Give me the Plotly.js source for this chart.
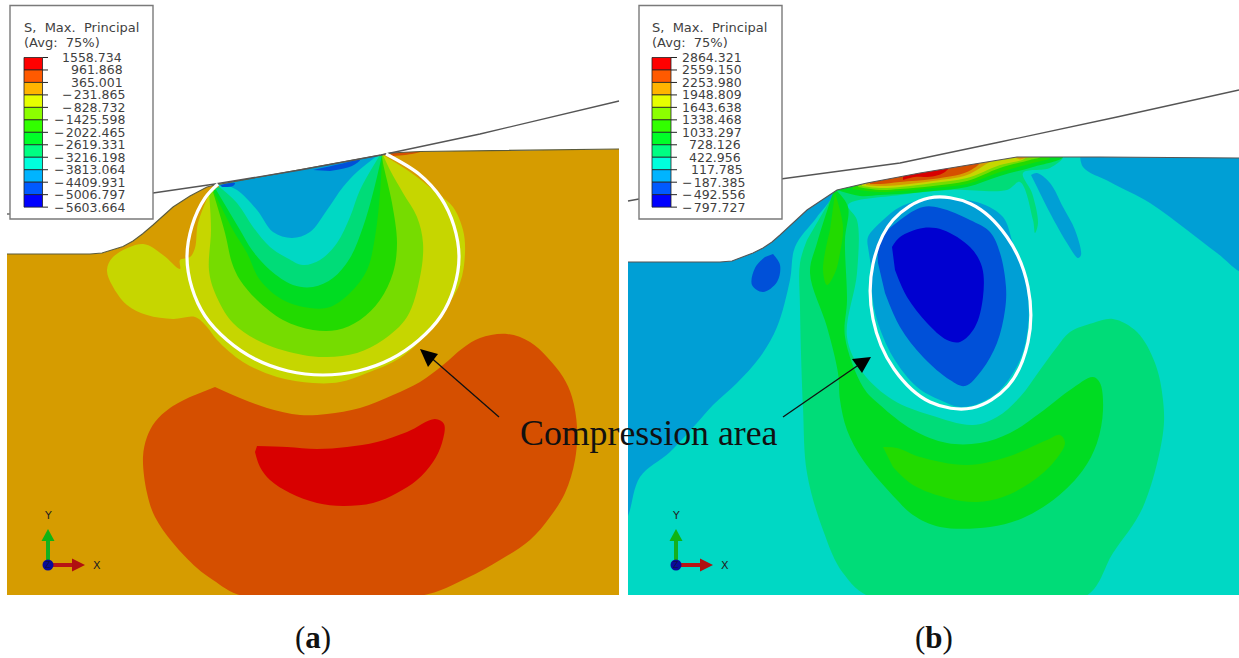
<!DOCTYPE html>
<html><head><meta charset="utf-8">
<script src="https://cdn.plot.ly/plotly-3.0.1.min.js"></script>
<style>html,body{margin:0;padding:0;background:#fff}#c{width:1239px;height:658px}</style>
</head><body><div id="c"></div>
<script>
// stress band colours of the contour plot, from high to low
const legendColors = ['#ff0000','#ff5a00','#ffb400','#e6ff00','#8cff00','#32ff00','#00ff28','#00ff82','#00ffdc','#00b4ff','#005aff','#0000ff'];
const cRed='#d80000', cOrange='#d54f00', cTan='#d69c00', cYellow='#c6d600', cLime='#76dc00', cGreen2='#22da00', cGreen='#00dc22', cMint='#00dc78', cCyan='#00d8c4', cBlue='#009fd5', cBlue2='#0050d8', cBlue3='#0000d0';

const legendTitle = 'S,\u00a0\u00a0Max.\u00a0\u00a0Principal';
const legendSub = '(Avg:\u00a0\u00a075%)';
const labelsA = ['1558.734','961.868','365.001','\u2212\u200a231.865','\u2212\u200a828.732','\u2212\u200a1425.598','\u2212\u200a2022.465','\u2212\u200a2619.331','\u2212\u200a3216.198','\u2212\u200a3813.064','\u2212\u200a4409.931','\u2212\u200a5006.797','\u2212\u200a5603.664'];
const labelsB = ['2864.321','2559.150','2253.980','1948.809','1643.638','1338.468','1033.297','728.126','422.956','117.785','\u2212\u200a187.385','\u2212\u200a492.556','\u2212\u200a797.727'];
const labelsAX = [62,71,71,62,62,54,54,54,54,54,54,54,54];
const labelsBX = [682,682,682,682,682,682,682,689,689,691,682,682,682];

// panel (a): surface outline and contour regions
const surfaceA = [[7,254],[75,254],[90,254],[102,253],[113,250],[123,246.5],[133,241],[143,233.5],[153,225],[173,207],[190,196],[207,187],[215,185],[300,170],[381,155],[390,153],[420,151.5],[619,149]];
const dieA = [[153,193],[215,184],[300,170],[381,155],[480,134],[550,117],[619,101]];
const dieStubA = [[7,214],[11,214]];
const aOrange = [[215,387],[240,398],[267,408],[300,415],[327,414],[360,408],[393,395],[420,382],[443,365],[463,348],[480,338],[507,334],[530,342],[547,357],[563,377],[572,397],[577,427],[575,460],[565,493],[550,517],[530,540],[500,560],[467,578],[420,596],[243,596],[213,580],[197,568],[173,543],[155,517],[147,493],[143,457],[147,437],[155,422],[170,408],[190,397]];
const aRed = [[257,446],[287,447],[317,449],[347,447],[377,442],[407,432],[435,419],[444,424],[442,443],[433,462],[417,480],[397,493],[373,503],[343,506],[317,503],[290,493],[270,480],[260,467],[255,452]];
const aYellow = [[210,192],[198,223],[195,248],[190,257],[180,260],[180,269],[163,255],[143,244],[113,257],[107,270],[112,285],[127,305],[147,315],[173,319],[195,317],[207,327],[217,340],[243,362],[277,377],[313,383],[340,382],[367,373],[400,358],[428,333],[440,317],[460,283],[465,253],[463,230],[453,207],[437,193],[410,172],[383,155]];
const aLime = [[209,192],[211,230],[209,270],[215,293],[233,323],[263,343],[303,355],[327,357],[357,353],[383,340],[407,317],[420,277],[423,243],[417,217],[403,193],[390,170],[383,155]];
const aGreen2 = [[213,192],[225,233],[232,263],[240,280],[257,300],[283,320],[313,330],[337,330],[360,320],[380,300],[393,273],[397,243],[392,203],[383,163],[382,155]];
const aGreen = [[213,190],[233,230],[247,253],[260,280],[283,300],[310,308],[330,307],[350,293],[367,270],[375,237],[380,193],[382,155]];
const aMint = [[215,188],[240,230],[252,250],[270,270],[293,285],[313,287],[333,278],[350,258],[363,227],[373,193],[382,155]];
const aCyan = [[217,185],[237,203],[253,227],[270,247],[287,258],[303,265],[320,260],[337,243],[350,217],[360,190],[380,155]];
const aBlue = [[222,184],[237,190],[257,210],[273,232],[292,238],[310,232],[327,210],[343,187],[357,172],[377,156]];
const aBlue2 = [[313,170],[340,164],[360,160],[352,166],[330,171]];
const aBlue3 = [[220,185],[235,183],[233,186],[222,187]];
const aHot = [[390,153],[405,152],[420,152],[405,155],[392,156]];
const circleA = [[386,154],[419,174],[441,198],[454,226],[459,257],[454,288],[441,316],[419,340],[391,359],[358,371],[323,375],[288,371],[255,359],[227,340],[205,316],[192,288],[187,257],[192,226],[205,198],[218,184]];

// panel (b): surface outline and contour regions
const surfaceB = [[628,262],[720,262],[732,261],[743,257],[753,253],[763,248],[772,242],[780,235],[807,210],[837,190],[867,183],[920,173],[987,162],[1017,157],[1100,157],[1239,158]];
const dieB = [[639,198],[782,179],[830,172],[900,163],[1000,142],[1117,117],[1239,90]];
const dieStubB = [[628,201],[639,199]];
const bBlueLeft = [[628,258],[720,258],[760,244],[800,210],[837,190],[817,217],[795,247],[790,280],[777,327],[760,357],[737,383],[713,405],[697,423],[670,452],[640,477],[630,510],[628,516]];
const bBlueSpot = [[773,254],[780,265],[777,282],[763,292],[752,285],[755,268],[765,257]];
const bBlueRight = [[1080,150],[1083,167],[1110,182],[1150,203],[1187,230],[1217,253],[1245,272],[1245,150]];
const bBlueSliver = [[1031,175],[1037,173],[1050,183],[1063,207],[1075,230],[1081,255],[1078,258],[1067,243],[1050,213],[1037,187]];
const bMint = [[836,190],[867,183],[920,173],[987,162],[1017,157],[1063,157],[1050,168],[1023,173],[1032,193],[1038,223],[1035,233],[1033,220],[1020,182],[1007,190],[950,190],[900,195],[848,205],[857,220],[857,273],[847,337],[863,373],[893,400],[930,415],[973,425],[997,417],[1020,397],[1040,370],[1057,347],[1070,332],[1093,323],[1113,319],[1137,332],[1155,363],[1163,400],[1163,433],[1143,507],[1113,553],[1083,598],[873,598],[843,573],[823,530],[807,473],[803,407],[800,307],[800,263],[807,240]];
const bGreen = [[837,191],[848,207],[845,240],[847,300],[845,337],[863,387],[880,405],[913,430],[947,443],[980,443],[1010,433],[1040,413],[1070,390],[1093,377],[1100,383],[1103,410],[1097,443],[1083,470],[1057,497],[1023,518],[990,527],[940,527],[913,515],[897,500],[863,460],[847,430],[840,400],[838,373],[827,327],[810,273],[817,243],[833,193]];
const bGreen2Low = [[883,447],[897,448],[920,457],[967,465],[1007,457],[1047,440],[1060,435],[1065,443],[1053,463],[1030,483],[1003,497],[977,502],[947,498],[913,485],[893,467]];
const bGreen2Finger = [[835,193],[843,227],[840,253],[835,273],[827,285],[823,270],[830,230]];
const bLensGreen = [[837,190],[860,196],[880,195],[900,194],[933,191],[967,187],[1000,176],[1033,167],[1063,157],[1060,150],[1017,150],[920,165],[840,183]];
const bLensGreen2 = [[852,189],[880,192],[900,191],[933,188],[967,184],[1000,172],[1033,163],[1050,158],[1017,150],[920,165],[860,178]];
const bLensLime = [[858,187],[880,190],[900,189],[933,186],[967,181],[1000,168],[1030,160],[1040,157],[1017,150],[920,165],[860,178]];
const bLensYellow = [[862,186],[880,188],[900,187],[933,183],[967,178],[1000,165],[1025,158],[1017,150],[920,165],[862,178]];
const bLensTan = [[866,185],[880,186],[900,185],[933,181],[967,175],[990,162],[1000,158],[980,155],[920,165],[866,178]];
const bLensOrange = [[870,184],[880,184],[900,182],[933,179],[967,172],[980,162],[960,158],[920,165],[870,178]];
const bLensRed = [[903,180],[915,177],[925,177],[935,176],[945,172],[950,165],[925,165],[903,172]];
const bTanTop = [[1010,156],[1032,156],[1020,159.5]];
const bBlue = [[868,247],[868,237],[883,220],[900,207],[927,199],[953,199],[980,203],[1003,217],[1013,243],[1023,270],[1028,297],[1028,327],[1020,360],[1000,390],[980,403],[960,407],[940,400],[917,387],[893,357],[877,320],[872,293],[872,273]];
const bBlue2 = [[878,263],[880,240],[900,220],[923,207],[940,208],[970,220],[990,232],[1000,253],[1006,287],[1005,310],[997,343],[982,370],[965,386],[950,380],[923,357],[900,327],[885,293]];
const bBlue3 = [[892,247],[900,237],[923,228],[943,230],[970,247],[982,267],[983,297],[975,327],[960,342],[947,340],[927,323],[907,297],[895,270]];
const circleB = [[929,198],[971,204],[1007,237],[1028,287],[1028,342],[1008,386],[972,408],[930,402],[894,369],[873,319],[873,264],[893,220],[929,198]];

// annotation arrows and coordinate triads
const arrowALine = [[499,417],[428,355]];
const arrowAHead = [[420,349],[438,354],[428,367]];
const arrowBLine = [[783,417],[860,364]];
const arrowBHead = [[871,357],[852,359],[862,373]];
const triadOrigins = [[48,565],[676,565]];

const xs = p => p.map(d => d[0]);
const ys = p => p.map(d => d[1]);
const traces = [];
function region(p, color, shape) {
  traces.push({type:'scatter', mode:'lines', x:xs(p), y:ys(p), fill:'toself', fillcolor:color,
    line:{width:0, color:color, shape:shape||'spline', smoothing:1}, hoverinfo:'skip'});
}
function stroke(p, color, width, shape) {
  traces.push({type:'scatter', mode:'lines', x:xs(p), y:ys(p),
    line:{width:width, color:color, shape:shape||'linear', smoothing:1}, hoverinfo:'skip'});
}

// panel a
region(surfaceA.concat([[619,595],[7,595]]), cTan, 'linear');
region(aOrange, cOrange); region(aRed, cRed); region(aYellow, cYellow); region(aLime, cLime);
region(aGreen2, cGreen2); region(aGreen, cGreen); region(aMint, cMint); region(aCyan, cCyan);
region(aBlue, cBlue); region(aBlue2, cBlue2); region(aBlue3, cBlue2); region(aHot, cOrange);
// panel b
region(surfaceB.concat([[1239,595],[628,595]]), cCyan, 'linear');
region(bBlueLeft, cBlue); region(bBlueSpot, cBlue2); region(bBlueRight, cBlue); region(bBlueSliver, cBlue);
region(bMint, cMint); region(bGreen, cGreen); region(bGreen2Low, cGreen2); region(bGreen2Finger, cGreen2);
region(bLensGreen, cGreen); region(bLensGreen2, cGreen2); region(bLensLime, cLime); region(bLensYellow, cYellow);
region(bLensTan, cTan); region(bLensOrange, cOrange); region(bLensRed, cRed); region(bTanTop, cTan);
region(bBlue, cBlue); region(bBlue2, cBlue2); region(bBlue3, cBlue3);
// white above the part surfaces, so region edges stay inside the part
region([[0,0],[0,254]].concat(surfaceA, [[624,149],[624,0]]), '#ffffff', 'linear');
region([[624,0],[624,262]].concat(surfaceB, [[1245,158],[1245,0]]), '#ffffff', 'linear');
stroke(surfaceA, '#5a5a3a', 1.1);
stroke(surfaceB, '#555555', 1.1);
stroke(dieA, '#555555', 1.3); stroke(dieStubA, '#555555', 1.3);
stroke(dieB, '#555555', 1.3); stroke(dieStubB, '#555555', 1.3);
stroke(circleA, '#ffffff', 3.2, 'spline');
stroke(circleB, '#ffffff', 3.2, 'spline');
stroke(arrowALine, '#111111', 1.3); region(arrowAHead, '#000000', 'linear');
stroke(arrowBLine, '#111111', 1.3); region(arrowBHead, '#000000', 'linear');

// triads
triadOrigins.forEach(o => {
  const [ox, oy] = o;
  stroke([[ox,oy],[ox,oy-25]], '#14b01e', 4);
  region([[ox,oy-36],[ox+6.5,oy-24],[ox-6.5,oy-24]], '#0fb414', 'linear');
  stroke([[ox,oy],[ox+25,oy]], '#b81414', 4);
  region([[ox+37,oy],[ox+24,oy-6.5],[ox+24,oy+6.5]], '#b01010', 'linear');
  traces.push({type:'scatter', mode:'markers', x:[ox], y:[oy], marker:{size:11, color:'#0a0a9a'}, hoverinfo:'skip'});
});

// legends
const shapes = [], annotations = [];
function legend(boxX, swX, swW, tickX, labels, labelX, title, titleX) {
  shapes.push({type:'rect', layer:'above', x0:boxX, x1:boxX+143, y0:5.5, y1:219, fillcolor:'#ffffff', line:{color:'#7a7a7a', width:1.4}});
  const top = 57.5, step = 12.47;
  legendColors.forEach((c,i) => {
    shapes.push({type:'rect', layer:'above', x0:swX, x1:swX+swW, y0:top+i*step, y1:top+(i+1)*step, fillcolor:c, line:{color:'#222222', width:0.8}});
  });
  labels.forEach((t,i) => {
    const y = top+i*step;
    shapes.push({type:'line', layer:'above', x0:swX+swW, x1:tickX, y0:y, y1:y, line:{color:'#222222', width:1}});
    annotations.push({x:labelX[i], y:y, xref:'x', yref:'y', text:t, showarrow:false, xanchor:'left', yanchor:'middle', height:11, valign:'middle',
      font:{family:'DejaVu Sans', size:12.5, color:'#3f3f3f'}, borderpad:0, borderwidth:0});
  });
  annotations.push({x:titleX, y:27, xref:'x', yref:'y', text:title, showarrow:false, xanchor:'left', yanchor:'middle', font:{family:'DejaVu Sans', size:13, color:'#3f3f3f'}});
  annotations.push({x:titleX, y:42, xref:'x', yref:'y', text:legendSub, showarrow:false, xanchor:'left', yanchor:'middle', font:{family:'DejaVu Sans', size:13, color:'#3f3f3f'}});
}
legend(10, 24, 18.5, 48, labelsA, labelsAX, legendTitle, 22);
legend(639, 652, 19, 677, labelsB, labelsBX, legendTitle, 650);

// white gaps around the panels; the annotations sit above these
shapes.push({type:'rect', layer:'above', x0:0, x1:1239, y0:595, y1:658, fillcolor:'#ffffff', line:{width:0}});
shapes.push({type:'rect', layer:'above', x0:619, x1:628, y0:225, y1:595, fillcolor:'#ffffff', line:{width:0}});

function note(x, y, text, font) {
  annotations.push({x, y, xref:'x', yref:'y', text, showarrow:false, xanchor:'center', yanchor:'middle', font});
}
triadOrigins.forEach(o => {
  note(o[0], o[1]-50, 'Y', {family:'DejaVu Sans', size:11, color:'#222222'});
  note(o[0]+49, o[1], 'X', {family:'DejaVu Sans', size:11, color:'#222222'});
  note(o[0], o[1], 'Z', {family:'DejaVu Sans', size:8, color:'#10104a'});
});
note(649, 433, 'Compression area', {family:'Liberation Serif', size:35.8, color:'#111111'});
note(313, 637, '(<b>a</b>)', {family:'Liberation Serif', size:31, color:'#111111'});
note(934, 637, '(<b>b</b>)', {family:'Liberation Serif', size:31, color:'#111111'});

Plotly.newPlot('c', traces, {
  width:1239, height:658, margin:{l:0,r:0,t:0,b:0}, showlegend:false,
  paper_bgcolor:'#ffffff', plot_bgcolor:'#ffffff',
  xaxis:{range:[0,1239], visible:false, fixedrange:true},
  yaxis:{range:[658,0], visible:false, fixedrange:true},
  shapes, annotations
}, {displayModeBar:false, staticPlot:true});
</script>
</body></html>
